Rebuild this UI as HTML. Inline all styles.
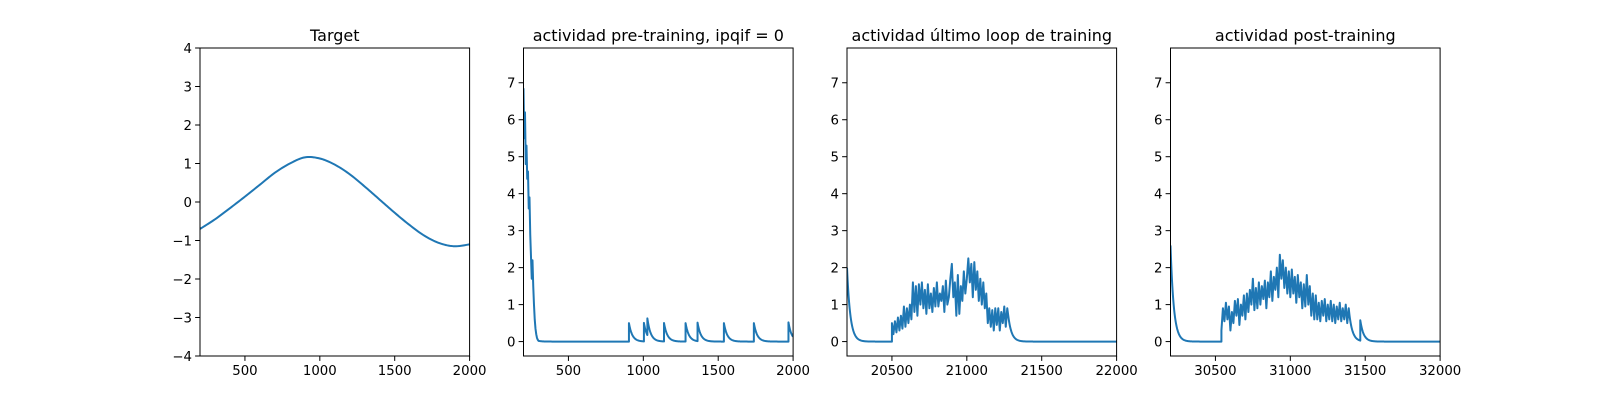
<!DOCTYPE html>
<html><head><meta charset="utf-8">
<style>
html,body{margin:0;padding:0;background:#fff;}
svg{display:block;font-family:"DejaVu Sans","Liberation Sans",sans-serif;}
</style></head>
<body>
<svg id="fig" width="1600" height="400" viewBox="0 0 1600 400"></svg>
<script>
// ---- data ----
const targetX = [200,300,400,500,600,700,800,900,1000,1100,1200,1300,1400,1500,1600,1700,1800,1900,2000];
const targetY = [-0.7,-0.45,-0.16,0.14,0.45,0.76,1.0,1.16,1.13,0.97,0.72,0.4,0.06,-0.28,-0.6,-0.88,-1.07,-1.15,-1.1];

const preInitStart = 200, preInitStep = 5;
const preInitY = [6.85,5.5,6.2,4.8,5.3,4.4,4.6,3.6,3.9,2.9,2.3,1.7,2.2,1.5,1.0,0.6,0.35,0.2,0.1,0.05,0.02];
const preSpikeX = [904,1004,1027,1138,1282,1362,1538,1738,1969];
const preSpikeH = [0.5,0.5,0.45,0.5,0.5,0.5,0.5,0.5,0.52];

const lastStartVal = 2.0;
const lastNoiseStart = 20500, lastNoiseStep = 10;
const lastNoise = [0.5,0.2,0.55,0.25,0.65,0.3,0.7,0.35,0.95,0.4,
 0.9,0.5,1.0,0.6,1.6,0.8,1.5,0.7,1.55,1.0,
 1.6,0.9,1.4,0.75,1.55,0.9,1.3,0.8,1.45,0.95,
 1.6,0.95,1.3,1.1,1.5,0.8,1.65,1.0,1.2,1.7,
 2.1,1.2,1.6,0.7,1.8,0.75,1.5,1.1,1.9,1.3,
 1.7,2.25,1.6,2.1,1.2,2.15,1.4,1.9,1.1,1.7,
 1.0,1.6,0.9,1.3,0.5,0.9,0.4,0.85,0.3,0.9,
 0.45,0.9,0.3,0.8,0.5,0.95,0.4,0.9,0.6];
const lastSpikeX = [];
const lastSpikeH = [];

const postStartVal = 2.6;
const postNoiseStart = 30540, postNoiseStep = 10;
const postNoise = [0.3,0.9,0.55,1.05,0.6,0.95,0.3,0.8,
 0.5,1.1,0.7,1.15,0.45,1.0,0.7,1.25,
 0.6,1.3,0.8,1.4,1.0,1.7,0.85,1.45,0.9,1.6,
 1.0,1.5,1.15,1.65,0.9,1.6,1.2,1.9,1.1,1.75,
 1.4,2.0,1.2,2.35,1.7,2.2,1.45,2.0,1.3,1.9,
 1.2,1.95,1.3,1.75,1.05,1.8,1.2,1.6,0.9,1.55,
 0.95,1.8,1.0,1.5,0.7,1.3,0.6,1.25,0.6,1.05,
 0.55,1.1,0.7,1.15,0.55,1.0,0.6,1.1,0.55,1.0,
 0.5,0.95,0.6,1.05,0.55,0.9,0.6,1.0,0.5,0.9];
const postSpikeX = [31467];
const postSpikeH = [0.55];

const ticksY1 = [-4,-3,-2,-1,0,1,2,3,4];
const ticksYA = [0,1,2,3,4,5,6,7];
const ticksX1 = [500,1000,1500,2000];
const ticksX3 = [20500,21000,21500,22000];
const ticksX4 = [30500,31000,31500,32000];
const titles = ["Target","actividad pre-training, ipqif = 0","actividad último loop de training","actividad post-training"];

// ---- drawing ----
const NS="http://www.w3.org/2000/svg";
const svg=document.getElementById('fig');
const TAU=22;
const AX_T=48, AX_B=356, AX_W=269.6, AX_L0=200, AX_STEP=323.5;
function mk(tag,attrs,parent){const e=document.createElementNS(NS,tag);for(const k in attrs)e.setAttribute(k,attrs[k]);(parent||svg).appendChild(e);return e;}

function decayFill(pts,x0,v0,x1,step){
  for(let x=x0+step;x<=x1;x+=step){pts.push([x,v0*Math.exp(-(x-x0)/TAU)]);}
}
function activitySeries(xmin,xmax,startVal,noiseStart,noiseStep,noise,spX,spH,initArr,initStart,initStep){
  const pts=[];
  let lastX=xmin,lastV=startVal;
  if(initArr){initArr.forEach((v,i)=>pts.push([initStart+i*initStep,v]));lastX=initStart+(initArr.length-1)*initStep;lastV=initArr[initArr.length-1];}
  else pts.push([xmin,startVal]);
  const events=[];
  if(noise){events.push({x:noiseStart,type:'noise'});}
  spX.forEach((x,i)=>events.push({x:x,type:'spike',h:spH[i]}));
  events.sort((a,b)=>a.x-b.x);
  for(const ev of events){
    decayFill(pts,lastX,lastV,ev.x,2);
    const cur=lastV*Math.exp(-(ev.x-lastX)/TAU);
    pts.push([ev.x,cur]);
    if(ev.type==='spike'){pts.push([ev.x,cur+ev.h]);lastX=ev.x;lastV=cur+ev.h;}
    else{noise.forEach((v,i)=>pts.push([noiseStart+i*noiseStep,v]));lastX=noiseStart+(noise.length-1)*noiseStep;lastV=noise[noise.length-1];}
  }
  decayFill(pts,lastX,lastV,xmax,2);
  return pts;
}
function smooth(xs,ys){
  const out=[];
  for(let i=0;i<xs.length-1;i++){
    const p0=i>0?i-1:i,p3=i+2<xs.length?i+2:i+1;
    for(let t=0;t<1;t+=0.1){
      const t2=t*t,t3=t2*t;
      const f=(a,b,c,d)=>0.5*((2*b)+(-a+c)*t+(2*a-5*b+4*c-d)*t2+(-a+3*b-3*c+d)*t3);
      out.push([f(xs[p0],xs[i],xs[i+1],xs[p3]),f(ys[p0],ys[i],ys[i+1],ys[p3])]);
    }
  }
  out.push([xs[xs.length-1],ys[ys.length-1]]);
  return out;
}

function panel(i,xmin,xmax,ymin,ymax,xt,yt,pts,title){
  const L=AX_L0+i*AX_STEP,R=L+AX_W;
  const sx=v=>L+(v-xmin)/(xmax-xmin)*AX_W;
  const sy=v=>AX_B-(v-ymin)/(ymax-ymin)*(AX_B-AX_T);
  const g=mk('g',{});
  
  
  const cid='clip'+i;
  const cp=mk('clipPath',{id:cid},g);mk('rect',{x:L,y:AX_T,width:AX_W,height:AX_B-AX_T},cp);
  const d=pts.map((p,k)=>(k?'L':'M')+sx(p[0]).toFixed(2)+' '+sy(p[1]).toFixed(2)).join('');
  const line=mk('path',{d:d,fill:'none',stroke:'#1f77b4','stroke-width':2,'clip-path':'url(#'+cid+')','stroke-linejoin':'round'},g);
  
  
  const fr=mk('rect',{x:L,y:AX_T,width:AX_W,height:AX_B-AX_T,fill:'none',stroke:'#000','stroke-width':1},g);
  
  
  xt.forEach(v=>{const x=sx(v);mk('line',{x1:x,x2:x,y1:AX_B,y2:AX_B+4.9,stroke:'#000','stroke-width':1},g);
    const t=mk('text',{x:x,y:AX_B+19,'font-size':13.3,'text-anchor':'middle',fill:'#000'},g);t.textContent=v;
    
    });
  yt.forEach(v=>{const y=sy(v);mk('line',{x1:L-4.9,x2:L,y1:y,y2:y,stroke:'#000','stroke-width':1},g);
    const t=mk('text',{x:L-8,y:y+4.8,'font-size':13.3,'text-anchor':'end',fill:'#000'},g);t.textContent=v<0?'\u2212'+(-v):v;
    
    });
  const tt=mk('text',{x:(L+R)/2,y:AX_T-7,'font-size':16,'text-anchor':'middle',fill:'#000'},g);tt.textContent=title;
  
  
}
const YA0=-0.39, YA1=7.94;
panel(0,200,2000,-4,4,ticksX1,ticksY1,smooth(targetX,targetY),titles[0]);
panel(1,200,2000,YA0,YA1,ticksX1,ticksYA,activitySeries(200,2000,0,0,0,null,preSpikeX,preSpikeH,preInitY,preInitStart,preInitStep),titles[1]);
panel(2,20200,22000,YA0,YA1,ticksX3,ticksYA,activitySeries(20200,22000,lastStartVal,lastNoiseStart,lastNoiseStep,lastNoise,lastSpikeX,lastSpikeH),titles[2]);
panel(3,30200,32000,YA0,YA1,ticksX4,ticksYA,activitySeries(30200,32000,postStartVal,postNoiseStart,postNoiseStep,postNoise,postSpikeX,postSpikeH),titles[3]);
</script>
</body></html>
